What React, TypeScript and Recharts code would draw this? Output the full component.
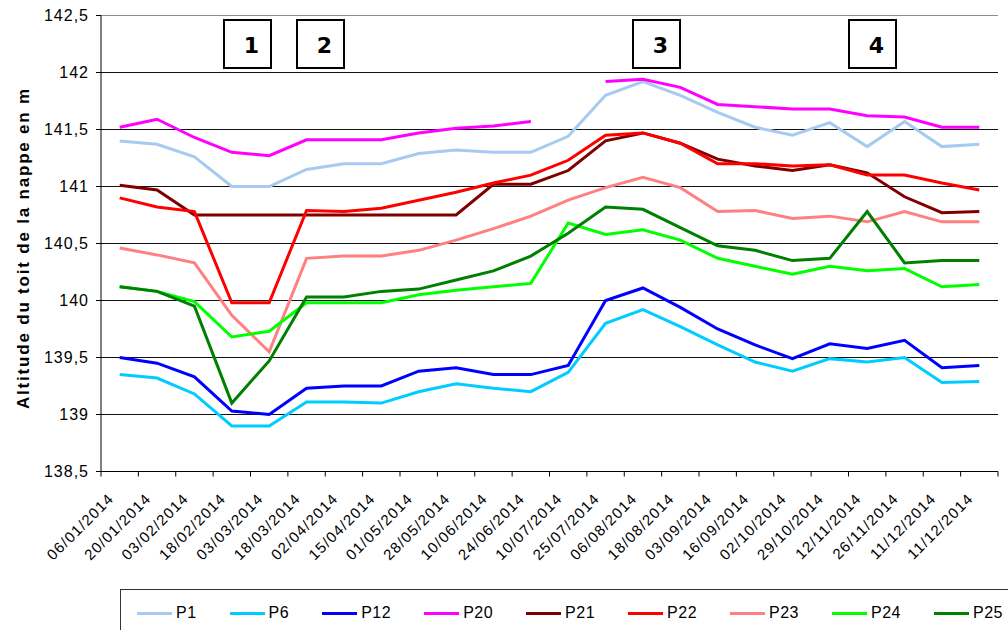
import React from 'react';
import { LineChart, Line, XAxis, YAxis, CartesianGrid, ReferenceLine } from 'recharts';

const dates = [
  '06/01/2014', '20/01/2014', '03/02/2014', '18/02/2014', '03/03/2014', '18/03/2014',
  '02/04/2014', '15/04/2014', '01/05/2014', '28/05/2014', '10/06/2014', '24/06/2014',
  '10/07/2014', '25/07/2014', '06/08/2014', '18/08/2014', '03/09/2014', '16/09/2014',
  '02/10/2014', '29/10/2014', '12/11/2014', '26/11/2014', '11/12/2014', '11/12/2014',
];

const p1 = [141.40, 141.37, 141.26, 141.00, 141.00, 141.15, 141.20, 141.20, 141.29, 141.32, 141.30, 141.30,
  141.44, 141.80, 141.92, 141.80, 141.65, 141.52, 141.45, 141.56, 141.35, 141.57, 141.35, 141.37];
const p6 = [139.35, 139.32, 139.18, 138.90, 138.90, 139.11, 139.11, 139.10, 139.20, 139.27, 139.23, 139.20,
  139.37, 139.80, 139.92, 139.77, 139.61, 139.46, 139.38, 139.49, 139.46, 139.50, 139.28, 139.29];
const p12 = [139.50, 139.45, 139.33, 139.03, 139.00, 139.23, 139.25, 139.25, 139.38, 139.41, 139.35, 139.35,
  139.43, 140.00, 140.11, 139.94, 139.75, 139.61, 139.49, 139.62, 139.58, 139.65, 139.41, 139.43];
const p20 = [141.52, 141.59, 141.43, 141.30, 141.27, 141.41, 141.41, 141.41, 141.47, 141.51, 141.53, 141.57,
  null, 141.92, 141.94, 141.87, 141.72, 141.70, 141.68, 141.68, 141.62, 141.61, 141.52, 141.52];
const p21 = [141.01, 140.97, 140.75, 140.75, 140.75, 140.75, 140.75, 140.75, 140.75, 140.75, 141.02, 141.02,
  141.14, 141.40, 141.47, 141.38, 141.24, 141.18, 141.14, 141.19, 141.12, 140.91, 140.77, 140.78];
const p22 = [140.90, 140.82, 140.78, 139.98, 139.98, 140.79, 140.78, 140.81, 140.88, 140.95, 141.03, 141.10,
  141.23, 141.45, 141.47, 141.38, 141.20, 141.20, 141.18, 141.19, 141.10, 141.10, 141.03, 140.97];
const p23 = [140.46, 140.40, 140.33, 139.87, 139.55, 140.37, 140.39, 140.39, 140.44, 140.53, 140.63, 140.74,
  140.88, 140.99, 141.08, 140.99, 140.78, 140.79, 140.72, 140.74, 140.69, 140.78, 140.69, 140.69];
const p24 = [140.12, 140.08, 139.99, 139.68, 139.73, 139.98, 139.98, 139.98, 140.05, 140.09, 140.12, 140.15,
  140.68, 140.58, 140.62, 140.53, 140.37, 140.30, 140.23, 140.30, 140.26, 140.28, 140.12, 140.14];
const p25 = [140.12, 140.08, 139.95, 139.10, 139.47, 140.03, 140.03, 140.08, 140.10, 140.18, 140.26, 140.39,
  140.59, 140.82, 140.80, 140.64, 140.48, 140.44, 140.35, 140.37, 140.78, 140.33, 140.35, 140.35];

const yTicks = [138.5, 139, 139.5, 140, 140.5, 141, 141.5, 142, 142.5];

const series = [
  { key: 'P1', color: '#A6CAF0', values: p1 },
  { key: 'P6', color: '#00CCFF', values: p6 },
  { key: 'P12', color: '#0000FF', values: p12 },
  { key: 'P20', color: '#FF00FF', values: p20 },
  { key: 'P21', color: '#800000', values: p21 },
  { key: 'P22', color: '#FF0000', values: p22 },
  { key: 'P23', color: '#FF8080', values: p23 },
  { key: 'P24', color: '#00FF00', values: p24 },
  { key: 'P25', color: '#008000', values: p25 },
];

const periods = ['1', '2', '3', '4'];
const periodAt = [223, 296, 632, 848];

const data = dates.map((d, i) => {
  const row: Record<string, any> = { date: d, idx: i };
  series.forEach((s) => { row[s.key] = s.values[i]; });
  return row;
});

const FONT = "'Liberation Sans', Arial, sans-serif";
const CHART_W = 1008;
const PLOT_LEFT = 101;
const PLOT_RIGHT_MARGIN = 10;
const PLOT_W = CHART_W - PLOT_LEFT - PLOT_RIGHT_MARGIN;
const HALF_BAND = PLOT_W / dates.length / 2;

const DateTick = (props: any) => {
  const { x, y, payload, index } = props;
  const bw = HALF_BAND * 2;
  const lx = x - bw / 2;
  return (
    <g>
      <line x1={lx} y1={y} x2={lx} y2={y + 5} stroke="#000" strokeWidth={1} />
      {index === dates.length - 1 && (
        <line x1={x + bw / 2} y1={y} x2={x + bw / 2} y2={y + 5} stroke="#000" strokeWidth={1} />
      )}
      <g transform={`translate(${x - 5},${y + 28})`}>
        <text
          textAnchor="end"
          transform="rotate(-45)"
          fontFamily={FONT}
          fontSize={15}
          letterSpacing={1.2}
          fill="#000"
        >
          {payload.value}
        </text>
      </g>
    </g>
  );
};

export default function App() {
  return (
    <div style={{ position: 'absolute', left: 0, top: 0, width: 1008, height: 630, overflow: 'hidden', background: '#fff' }}>
      <LineChart
        width={1008}
        height={630}
        data={data}
        margin={{ top: 15.5, right: PLOT_RIGHT_MARGIN, left: 0, bottom: 0 }}
      >
        <CartesianGrid vertical={false} stroke="#111" strokeWidth={1} />
        <XAxis
          dataKey="date"
          interval={0}
          height={158.5}
          padding={{ left: HALF_BAND, right: HALF_BAND }}
          axisLine={{ stroke: '#000', strokeWidth: 1 }}
          tickLine={false}
          tickSize={0}
          tickMargin={0}
          tick={<DateTick />}
        />
        <YAxis
          domain={[138.5, 142.5]}
          ticks={yTicks}
          width={PLOT_LEFT}
          interval={0}
          axisLine={{ stroke: '#000', strokeWidth: 1 }}
          tickLine={{ stroke: '#000', strokeWidth: 1 }}
          tickSize={5}
          tickMargin={7}
          tick={{ fontFamily: FONT, fontSize: 16, fill: '#000', letterSpacing: 1 }}
          tickFormatter={(v: number) => String(v).replace('.', ',')}
        />
        <YAxis
          yAxisId="right"
          orientation="right"
          domain={[138.5, 142.5]}
          width={0}
          tick={false}
          tickLine={false}
          axisLine={{ stroke: '#8c8c8c', strokeWidth: 1 }}
        />
        <ReferenceLine y={142.5} stroke="#8c8c8c" strokeWidth={1} />
        {series.map((s) => (
          <Line
            key={s.key}
            type="linear"
            dataKey={s.key}
            stroke={s.color}
            strokeWidth={3}
            dot={false}
            activeDot={false}
            connectNulls={false}
            isAnimationActive={false}
          />
        ))}
      </LineChart>

      <svg width={1008} height={630} style={{ position: 'absolute', left: 0, top: 0, pointerEvents: 'none' }}>
        <text
          transform="translate(29,248) rotate(-90)"
          textAnchor="middle"
          fontFamily={FONT}
          fontWeight="bold"
          fontSize={17}
          letterSpacing={1.8}
          fill="#000"
        >
          Altitude du toit de la nappe en m
        </text>
      </svg>

      {periods.map((p, i) => (
        <div
          key={p}
          style={{
            position: 'absolute',
            left: periodAt[i],
            top: 19,
            width: 49,
            height: 50,
            boxSizing: 'border-box',
            border: '2px solid #000',
            background: '#fff',
            fontFamily: "'DejaVu Sans', Verdana, sans-serif",
            fontWeight: 'bold',
            fontSize: 22,
            lineHeight: '46px',
            textAlign: 'center',
            paddingLeft: 8,
            paddingTop: 4,
            color: '#000',
          }}
        >
          <span style={{ position: 'relative', top: -2 }}>{p}</span>
        </div>
      ))}

      <div
        style={{
          position: 'absolute',
          left: 120,
          top: 589,
          width: 920,
          height: 60,
          boxSizing: 'border-box',
          border: '1px solid #333',
          display: 'flex',
          alignItems: 'flex-start',
          paddingLeft: 16,
          paddingTop: 13,
          fontFamily: FONT,
          fontSize: 16,
          color: '#000',
        }}
      >
        {series.map((s) => (
          <div key={s.key} style={{ display: 'flex', alignItems: 'center', marginRight: 33, height: 20 }}>
            <div style={{ width: 35, height: 3, background: s.color, marginRight: 4 }} />
            <span style={{ letterSpacing: 0.5 }}>{s.key}</span>
          </div>
        ))}
      </div>
    </div>
  );
}
